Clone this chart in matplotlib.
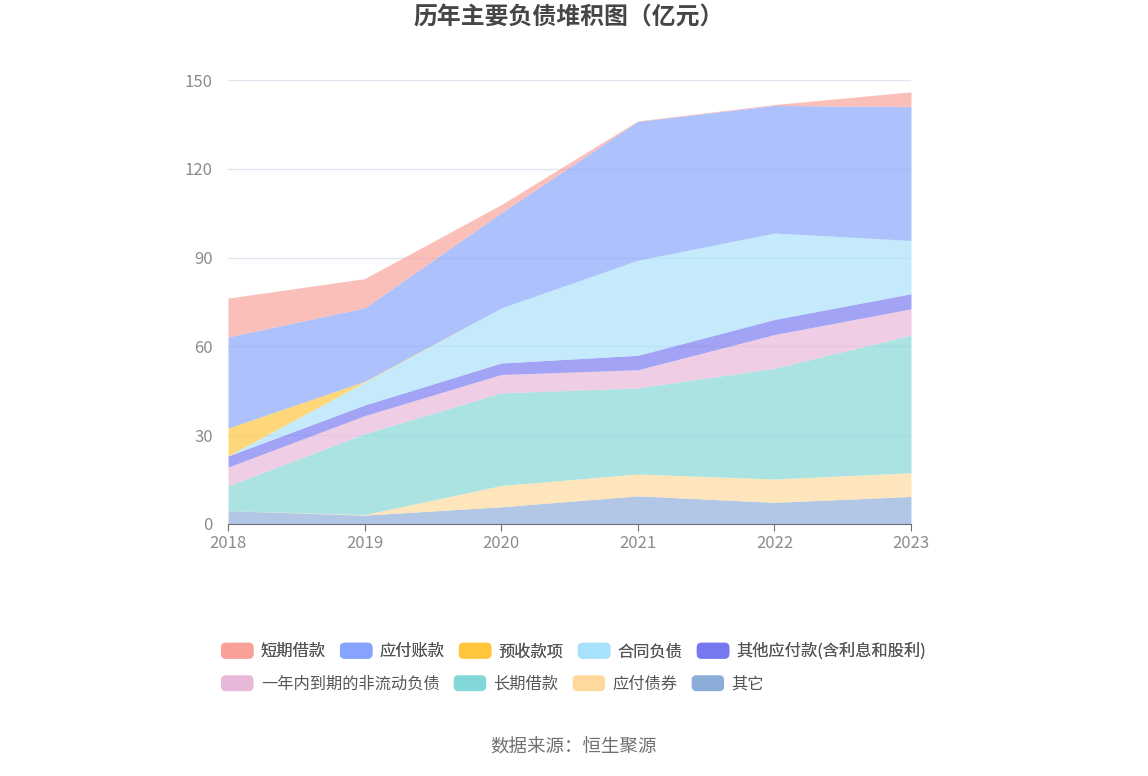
import numpy as np
import matplotlib
matplotlib.use("Agg")
from matplotlib import pyplot as plt
from matplotlib.patches import FancyBboxPatch, Patch
from matplotlib.legend_handler import HandlerPatch

plt.rcParams['font.family'] = ['Noto Sans CJK SC', 'DejaVu Sans']

# Données (亿元)
years = [2018, 2019, 2020, 2021, 2022, 2023]
qita = [4.5, 3.0, 5.8, 9.5, 7.3, 9.3]
yingfu_zhaiquan = [0.0, 0.2, 7.2, 7.4, 7.9, 8.0]
changqi_jiekuan = [8.4, 27.3, 31.3, 29.1, 37.4, 46.5]
yinian_daoqi = [6.3, 6.1, 6.2, 6.1, 11.4, 8.9]
qita_yingfu = [3.8, 3.6, 3.9, 4.9, 5.1, 5.1]
hetong_fuzhai = [0.0, 7.7, 18.6, 32.1, 29.2, 18.0]
yushou = [9.4, 0.3, 0.0, 0.0, 0.0, 0.0]
yingfu_zhangkuan = [30.8, 24.8, 32.1, 46.9, 43.1, 45.2]
duanqi_jiekuan = [13.1, 9.9, 2.8, 0.2, 0.3, 5.0]

legend_names = ['短期借款', '应付账款', '预收款项', '合同负债', '其他应付款(含利息和股利)',
                '一年内到期的非流动负债', '长期借款', '应付债券', '其它']
legend_colors = ['#F9A199', '#86A4FD', '#FFC53D', '#A8E1FB', '#7778F0',
                 '#E8B8D9', '#84D7D7', '#FFD99B', '#8DADD9']

# bottom -> top stacking order
stack = [qita, yingfu_zhaiquan, changqi_jiekuan, yinian_daoqi, qita_yingfu,
         hetong_fuzhai, yushou, yingfu_zhangkuan, duanqi_jiekuan]
stack_colors = legend_colors[::-1]


class RoundBoxHandler(HandlerPatch):
    def create_artists(self, legend, orig_handle, xdescent, ydescent,
                       width, height, fontsize, trans):
        p = FancyBboxPatch((-xdescent, -ydescent), width, height,
                           boxstyle="round,pad=0,rounding_size=%f" % (height * 0.3),
                           facecolor=orig_handle.get_facecolor(), edgecolor='none',
                           transform=trans)
        return [p]


W, H = 1148, 776
fig = plt.figure(figsize=(W / 100, H / 100), dpi=100)
ax = fig.add_axes([228 / W, 1 - 524 / H, (911 - 228) / W, (524 - 80) / H])

x = np.array(years)
base = np.zeros(len(years))
for vals, c in zip(stack, stack_colors):
    top = base + np.array(vals)
    ax.fill_between(x, base, top, color=c, alpha=0.68, lw=0)
    base = top

ax.set_xlim(2018, 2023)
ax.set_ylim(0, 150)
ax.set_yticks([0, 30, 60, 90, 120, 150])
ax.set_xticks(years)
ax.grid(axis='y', color='#E0E6F1', lw=1)
ax.set_axisbelow(True)
for s in ('left', 'right', 'top'):
    ax.spines[s].set_visible(False)
ax.spines['bottom'].set_color('#6E7079')
ax.spines['bottom'].set_zorder(5)
ax.tick_params(axis='y', length=0, pad=11, labelsize=12, labelcolor='#8C8C8C')
ax.tick_params(axis='x', length=5, color='#6E7079', pad=3, labelsize=12,
               labelcolor='#8C8C8C')

fig.text(569 / W, 1 - 18 / H, '历年主要负债堆积图（亿元）', ha='center', va='center',
         fontsize=17.2, fontweight='bold', color='#464646')
fig.text(574 / W, 1 - 748 / H, '数据来源：恒生聚源', ha='center', va='center',
         fontsize=13.3, color='#707070')

handles = [Patch(facecolor=c) for c in legend_colors]
leg_kw = dict(frameon=False, fontsize=11.7, handlelength=2.0, handleheight=1.13,
              handletextpad=0.45, columnspacing=0.87, borderpad=0, borderaxespad=0,
              handler_map={Patch: RoundBoxHandler()}, labelcolor='#555555')
leg1 = fig.legend(handles[:5], legend_names[:5], ncol=5, loc='center left',
                  bbox_to_anchor=(221 / W, 1 - 651.5 / H), **leg_kw)
fig.add_artist(leg1)
fig.legend(handles[5:], legend_names[5:], ncol=4, loc='center left',
           bbox_to_anchor=(221 / W, 1 - 684 / H), **leg_kw)

fig.savefig('out.png', dpi=100)
